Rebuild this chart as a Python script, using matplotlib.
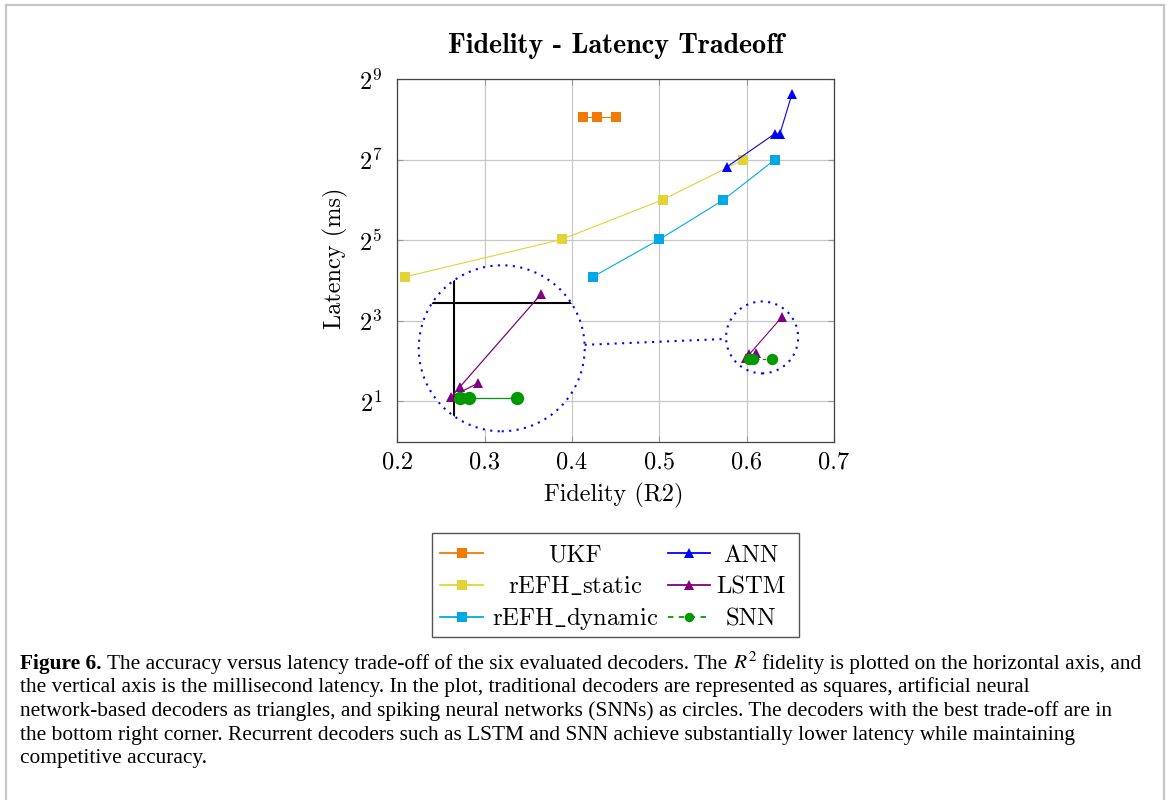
import numpy as np
import matplotlib
matplotlib.use("Agg")
import matplotlib.pyplot as plt
from matplotlib.patches import Ellipse, Circle, Rectangle
from matplotlib.lines import Line2D
from matplotlib.ticker import FixedLocator, NullLocator, FixedFormatter

# ---------------- data ----------------
series_names = ["UKF", "rEFH_static", "rEFH_dynamic", "ANN", "LSTM", "SNN"]
ukf_fidelity = [0.412, 0.429, 0.450]
ukf_latency = [269, 269, 269]
static_fidelity = [0.209, 0.388, 0.504, 0.596]
static_latency = [17.1, 32.5, 64.5, 128]
dynamic_fidelity = [0.424, 0.500, 0.573, 0.632]
dynamic_latency = [17.1, 32.5, 64, 128]
ann_fidelity = [0.577, 0.632, 0.638, 0.652]
ann_latency = [113, 200, 200, 400]
lstm_fidelity = [0.640, 0.603, 0.599, 0.611]
lstm_latency = [8.5, 4.5, 4.2, 4.6]
snn_fidelity = [0.603, 0.607, 0.629]
snn_latency = [4.17, 4.17, 4.17]

x_ticks = [0.2, 0.3, 0.4, 0.5, 0.6, 0.7]
y_tick_exponents = [1, 3, 5, 7, 9]

title_text = "Fidelity - Latency Tradeoff"
xlabel_text = "Fidelity (R2)"
ylabel_text = "Latency (ms)"
legend_labels = ["UKF", r"rEFH$\_$static", r"rEFH$\_$dynamic", "ANN", "LSTM", "SNN"]

caption_bold = "Figure 6."
caption_lines = [
    ["The accuracy versus latency trade-off of the six evaluated decoders. The", "$R^2$",
     "fidelity is plotted on the horizontal axis, and"],
    ["the vertical axis is the millisecond latency. In the plot, traditional decoders are represented as squares, artificial neural"],
    ["network-based decoders as triangles, and spiking neural networks (SNNs) as circles. The decoders with the best trade-off are in"],
    ["the bottom right corner. Recurrent decoders such as LSTM and SNN achieve substantially lower latency while maintaining"],
    ["competitive accuracy."],
]

# ---------------- style ----------------
colors = ["#F27A00", "#E3D337", "#00A9E6", "#0000FF", "#800080", "#009A00"]
markers = ["s", "s", "s", "^", "^", "o"]
msizes = [7.9, 7.9, 7.9, 7.0, 7.0, 8.2]
inset_msizes = [9.0, 9.0, 9.0, 7.8, 7.8, 9.6]
leg_msizes = [7.2, 7.2, 7.2, 6.5, 6.5, 6.8]
linestyles = ["-", "-", "-", "-", "-", (0, (3, 3))]

plt.rcParams["font.family"] = "cmr10"
plt.rcParams["mathtext.fontset"] = "cm"
plt.rcParams["axes.unicode_minus"] = False

W, H = 1168, 800
fig = plt.figure(figsize=(W / 100, H / 100), dpi=100)
fig.patch.set_facecolor("white")


def pf(x, y):
    return x / W, 1 - y / H


AX_L, AX_R, AX_T, AX_B = 397.4, 834.0, 79.3, 441.7
ax = fig.add_axes([AX_L / W, 1 - AX_B / H, (AX_R - AX_L) / W, (AX_B - AX_T) / H])
XMIN, XMAX = 0.2, 0.7
YMIN, YMAX = 2 ** 0, 2 ** 9
ax.set_yscale("log", base=2)
ax.set_xlim(XMIN, XMAX)
ax.set_ylim(YMIN, YMAX)
ax.xaxis.set_major_locator(FixedLocator(x_ticks))
ax.xaxis.set_major_formatter(FixedFormatter(["%.1f" % v for v in x_ticks]))
ax.yaxis.set_major_locator(FixedLocator([2.0 ** e for e in y_tick_exponents]))
ax.yaxis.set_major_formatter(FixedFormatter(["$2^{%d}$" % e for e in y_tick_exponents]))
ax.xaxis.set_minor_locator(NullLocator())
ax.yaxis.set_minor_locator(NullLocator())
ax.grid(True, color="#c8c8c8", lw=0.9)
ax.set_axisbelow(True)
for s in ax.spines.values():
    s.set_color("#444444")
    s.set_linewidth(0.9)
ax.tick_params(axis="both", which="major", direction="in", length=4, width=0.8,
               color="#999999", top=True, right=True, labelsize=17.5)
ax.tick_params(axis="x", pad=7)
ax.tick_params(axis="y", pad=11)

all_x = [ukf_fidelity, static_fidelity, dynamic_fidelity, ann_fidelity, lstm_fidelity, snn_fidelity]
all_y = [ukf_latency, static_latency, dynamic_latency, ann_latency, lstm_latency, snn_latency]

for i in range(6):
    ax.plot(all_x[i], all_y[i], color=colors[i], marker=markers[i], ms=msizes[i],
            mew=0, lw=0.8, ls=linestyles[i], zorder=3 + i * 0.1)

# texts
fig.text(615.7 / W, 1 - 53.0 / H, title_text, family="cmb10", fontsize=20.3, ha="center", va="baseline")
fig.text(614 / W, 1 - 501.0 / H, xlabel_text, fontsize=17.5, ha="center", va="baseline")
fig.text(335 / W, 1 - 258.3 / H, ylabel_text, fontsize=17.5, ha="center", va="center", rotation=90)

# ---------------- magnifier (spy) ----------------
BIG_C = (501.7, 348.3)
BIG_R = 83.0
MAG = 2.5
SRC_X, SRC_L2 = 0.622, 2.55
SMALL_X, SMALL_L2 = 0.6177, 2.59
SMALL_R = 36.0

px_per_x = (AX_R - AX_L) / (XMAX - XMIN)
px_per_l2 = (AX_B - AX_T) / (np.log2(YMAX) - np.log2(YMIN))
hx = BIG_R / MAG / px_per_x
hl = BIG_R / MAG / px_per_l2

ax_in = fig.add_axes([(BIG_C[0] - BIG_R) / W, 1 - (BIG_C[1] + BIG_R) / H, 2 * BIG_R / W, 2 * BIG_R / H])
ax_in.set_yscale("log", base=2)
ax_in.set_xlim(SRC_X - hx, SRC_X + hx)
ax_in.set_ylim(2 ** (SRC_L2 - hl), 2 ** (SRC_L2 + hl))
ax_in.set_axis_off()
clip = Circle((0.5, 0.5), 0.5, transform=ax_in.transAxes)
bg = Circle((0.5, 0.5), 0.5, transform=ax_in.transAxes, facecolor="white", edgecolor="none", zorder=0)
ax_in.add_patch(bg)
for xv in x_ticks:
    l = ax_in.axvline(xv, color="black", lw=1.5, zorder=1)
    l.set_clip_path(clip)
for e in y_tick_exponents:
    l = ax_in.axhline(2.0 ** e, color="black", lw=1.5, zorder=1)
    l.set_clip_path(clip)
for i in range(6):
    lines = ax_in.plot(all_x[i], all_y[i], color=colors[i], marker=markers[i], ms=inset_msizes[i],
                       mew=0, lw=0.9, ls="-", zorder=3 + i * 0.1)
    for ln in lines:
        ln.set_clip_path(clip)

# small circle position in pixels
sx = AX_L + (SMALL_X - XMIN) * px_per_x
sy = AX_B - (SMALL_L2 - np.log2(YMIN)) * px_per_l2
dot = (0, (1, 2.6))
for (cx, cy, r) in [(BIG_C[0], BIG_C[1], BIG_R), (sx, sy, SMALL_R)]:
    e = Ellipse(pf(cx, cy), 2 * r / W, 2 * r / H, transform=fig.transFigure, fill=False,
                edgecolor="#0000FF", lw=1.5, ls=dot, zorder=10)
    fig.add_artist(e)
d = np.array([sx - BIG_C[0], sy - BIG_C[1]])
d = d / np.hypot(*d)
p0 = np.array(BIG_C) + BIG_R * d
p1 = np.array([sx, sy]) - SMALL_R * d
fig.add_artist(Line2D([p0[0] / W, p1[0] / W], [1 - p0[1] / H, 1 - p1[1] / H], transform=fig.transFigure,
                      color="#0000FF", lw=1.5, ls=dot, zorder=10))

# ---------------- legend (manual) ----------------
LG_L, LG_R, LG_T, LG_B = 431.7, 799.3, 533.3, 637.3
fig.add_artist(Rectangle(pf(LG_L, LG_B), (LG_R - LG_L) / W, (LG_B - LG_T) / H, transform=fig.transFigure,
                         facecolor="white", edgecolor="#555555", lw=1.0, zorder=5))
row_y = [553.3, 585.0, 616.7]
col_handle = [(440, 483), (668, 710)]
col_text = [575, 751]
for i in range(6):
    col, row = i // 3, i % 3
    x0, x1 = col_handle[col]
    y = row_y[row]
    fig.add_artist(Line2D([x0 / W, x1 / W], [1 - y / H, 1 - y / H], transform=fig.transFigure,
                          color=colors[i], lw=1.3, ls=linestyles[i], zorder=6))
    fig.add_artist(Line2D([(x0 + x1) / 2 / W], [1 - y / H], transform=fig.transFigure,
                          color=colors[i], marker=markers[i], ms=leg_msizes[i], mew=0, lw=0, zorder=7))
    fig.text(col_text[col] / W, 1 - (y + 8.3) / H, legend_labels[i], fontsize=17.8, ha="center",
             va="baseline", zorder=7)

# ---------------- border ----------------
BC = "#c6c6c6"
for xs, ys in [([6.0, 6.0], [H + 5, 5.3]), ([6.0, 1164], [5.3, 5.3]), ([1164, 1164], [5.3, H + 5])]:
    fig.add_artist(Line2D([v / W for v in xs], [1 - v / H for v in ys], transform=fig.transFigure,
                          color=BC, lw=1.6, zorder=1))

# ---------------- caption ----------------
CAP_X = 20.0
CAP_Y0 = 668.5
CAP_DY = 23.75
CAP_FS = 15.4
CAP_FONT = "Liberation Serif"
renderer = fig.canvas.get_renderer()
space_px = CAP_FS * 100 / 72 * 0.25

for li, pieces in enumerate(caption_lines):
    y = CAP_Y0 + li * CAP_DY
    x = CAP_X
    if li == 0:
        t = fig.text(x / W, 1 - y / H, caption_bold, family=CAP_FONT, fontsize=CAP_FS, weight="bold",
                     va="baseline", ha="left")
        x += t.get_window_extent(renderer).width + space_px
    for pc in pieces:
        if pc.startswith("$"):
            t = fig.text(x / W, 1 - y / H, pc, family=CAP_FONT, fontsize=CAP_FS, va="baseline", ha="left",
                         math_fontfamily="stix")
        else:
            t = fig.text(x / W, 1 - y / H, pc, family=CAP_FONT, fontsize=CAP_FS, va="baseline", ha="left")
        x += t.get_window_extent(renderer).width + space_px

fig.savefig("out.png", dpi=100, facecolor="white")
